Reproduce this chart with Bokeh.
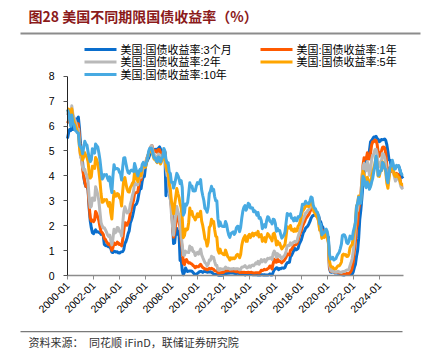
import math
from datetime import datetime, timezone
import pandas as pd
from bokeh.plotting import figure
from bokeh.models import (FixedTicker, DatetimeTickFormatter, Label, Range1d)
from bokeh.embed import file_html
from bokeh.resources import INLINE

# ---------------- data (monthly, starting 2000-01) ----------------
title_text = "图28 美国不同期限国债收益率（%）"
source_text = "资料来源：\u3000同花顺 iFinD，联储证券研究院"
series_names = ["美国:国债收益率:3个月", "美国:国债收益率:1年", "美国:国债收益率:2年",
                "美国:国债收益率:5年", "美国:国债收益率:10年"]
x_tick_labels = ["2000-01", "2002-01", "2004-01", "2006-01", "2008-01", "2010-01", "2012-01",
                 "2014-01", "2016-01", "2018-01", "2020-01", "2022-01", "2024-01"]
y_ticks = [0, 1, 2, 3, 4, 5, 6, 7, 8]

y3m = [
    5.50, 5.73, 5.86, 5.82, 5.99, 5.86, 6.14, 6.28, 6.18, 6.29, 6.36, 5.94,
    5.29, 5.01, 4.54, 3.97, 3.70, 3.57, 3.59, 3.44, 2.69, 2.20, 1.91, 1.72,
    1.68, 1.76, 1.83, 1.75, 1.76, 1.73, 1.71, 1.65, 1.66, 1.61, 1.25, 1.21,
    1.19, 1.19, 1.15, 1.15, 1.09, 0.94, 0.92, 0.97, 0.96, 0.94, 0.95, 0.91,
    0.90, 0.94, 0.95, 0.96, 1.04, 1.29, 1.36, 1.50, 1.68, 1.79, 2.11, 2.22,
    2.37, 2.58, 2.80, 2.84, 2.90, 3.04, 3.29, 3.52, 3.49, 3.79, 3.97, 3.97,
    4.34, 4.54, 4.63, 4.72, 4.84, 4.92, 5.08, 5.09, 4.93, 5.05, 5.07, 4.97,
    5.11, 5.16, 5.08, 5.01, 4.87, 4.74, 4.96, 3.20, 3.99, 4.00, 3.35, 3.07,
    2.82, 2.17, 1.28, 1.31, 1.76, 1.89, 1.66, 1.75, 0.60, 0.69, 0.19, 0.03,
    0.13, 0.30, 0.22, 0.16, 0.18, 0.18, 0.18, 0.17, 0.12, 0.07, 0.05, 0.05,
    0.08, 0.12, 0.15, 0.16, 0.16, 0.12, 0.16, 0.16, 0.15, 0.13, 0.14, 0.14,
    0.15, 0.13, 0.10, 0.06, 0.04, 0.04, 0.04, 0.02, 0.01, 0.02, 0.01, 0.01,
    0.03, 0.09, 0.08, 0.08, 0.09, 0.09, 0.10, 0.10, 0.11, 0.10, 0.09, 0.07,
    0.07, 0.10, 0.09, 0.06, 0.04, 0.05, 0.04, 0.04, 0.02, 0.05, 0.07, 0.07,
    0.04, 0.05, 0.05, 0.03, 0.03, 0.04, 0.03, 0.03, 0.02, 0.02, 0.02, 0.03,
    0.03, 0.02, 0.03, 0.02, 0.02, 0.02, 0.03, 0.07, 0.02, 0.02, 0.13, 0.23,
    0.26, 0.31, 0.30, 0.23, 0.28, 0.27, 0.30, 0.30, 0.29, 0.33, 0.45, 0.51,
    0.52, 0.53, 0.75, 0.81, 0.90, 1.00, 1.09, 1.03, 1.05, 1.09, 1.25, 1.34,
    1.43, 1.59, 1.73, 1.79, 1.90, 1.94, 1.99, 2.07, 2.17, 2.30, 2.37, 2.41,
    2.42, 2.44, 2.45, 2.43, 2.40, 2.22, 2.15, 1.99, 1.93, 1.68, 1.57, 1.57,
    1.55, 1.54, 0.30, 0.14, 0.13, 0.16, 0.13, 0.10, 0.11, 0.10, 0.09, 0.09,
    0.08, 0.04, 0.03, 0.02, 0.02, 0.04, 0.05, 0.05, 0.04, 0.05, 0.05, 0.06,
    0.15, 0.33, 0.44, 0.76, 0.98, 1.49, 2.23, 2.63, 3.13, 3.72, 4.15, 4.36,
    4.69, 4.79, 4.85, 5.02, 5.36, 5.42, 5.49, 5.56, 5.55, 5.59, 5.50, 5.47,
    5.37, 5.40, 5.46, 5.45, 5.46, 5.48, 5.42, 5.25, 4.97, 4.65, 4.62, 4.40,
    4.34, 4.34, 4.34, 4.33, 4.36, 4.38, 4.40, 4.26, 4.07, 3.96, 3.90,
]

y1y = [
    6.12, 6.22, 6.22, 6.15, 6.33, 6.17, 6.08, 6.18, 6.13, 6.01, 6.09, 5.60,
    4.81, 4.68, 4.30, 3.98, 3.78, 3.58, 3.62, 3.47, 2.82, 2.33, 2.18, 2.22,
    2.16, 2.23, 2.57, 2.48, 2.35, 2.20, 1.96, 1.76, 1.72, 1.65, 1.49, 1.45,
    1.36, 1.30, 1.24, 1.27, 1.18, 1.01, 1.12, 1.31, 1.24, 1.25, 1.34, 1.31,
    1.24, 1.24, 1.19, 1.43, 1.78, 2.12, 2.10, 2.02, 2.12, 2.23, 2.50, 2.67,
    2.86, 3.03, 3.30, 3.32, 3.33, 3.36, 3.64, 3.87, 3.85, 4.18, 4.33, 4.35,
    4.45, 4.68, 4.77, 4.90, 5.00, 5.16, 5.22, 5.08, 4.97, 5.01, 5.01, 4.94,
    5.06, 5.05, 4.92, 4.93, 4.91, 4.96, 4.96, 4.47, 4.14, 4.10, 3.50, 3.26,
    2.71, 2.05, 1.54, 1.74, 2.06, 2.42, 2.28, 2.18, 1.91, 1.42, 1.07, 0.49,
    0.44, 0.62, 0.64, 0.55, 0.50, 0.51, 0.48, 0.46, 0.40, 0.37, 0.31, 0.37,
    0.35, 0.35, 0.40, 0.45, 0.37, 0.32, 0.29, 0.26, 0.26, 0.23, 0.25, 0.29,
    0.27, 0.29, 0.26, 0.25, 0.19, 0.18, 0.19, 0.11, 0.10, 0.11, 0.11, 0.12,
    0.12, 0.16, 0.19, 0.18, 0.19, 0.19, 0.19, 0.18, 0.18, 0.18, 0.18, 0.16,
    0.15, 0.16, 0.15, 0.12, 0.12, 0.14, 0.12, 0.13, 0.12, 0.12, 0.12, 0.13,
    0.12, 0.12, 0.13, 0.11, 0.10, 0.10, 0.11, 0.11, 0.11, 0.10, 0.13, 0.21,
    0.20, 0.22, 0.25, 0.23, 0.24, 0.28, 0.30, 0.38, 0.37, 0.26, 0.48, 0.65,
    0.54, 0.53, 0.66, 0.56, 0.59, 0.55, 0.51, 0.57, 0.59, 0.66, 0.74, 0.87,
    0.83, 0.82, 1.01, 1.04, 1.12, 1.20, 1.22, 1.23, 1.28, 1.40, 1.56, 1.70,
    1.80, 1.96, 2.06, 2.15, 2.27, 2.33, 2.39, 2.45, 2.56, 2.65, 2.70, 2.66,
    2.58, 2.55, 2.49, 2.42, 2.34, 2.00, 1.96, 1.77, 1.80, 1.61, 1.57, 1.55,
    1.53, 1.41, 0.33, 0.18, 0.16, 0.18, 0.15, 0.13, 0.13, 0.13, 0.12, 0.10,
    0.10, 0.07, 0.08, 0.06, 0.05, 0.07, 0.08, 0.07, 0.08, 0.11, 0.18, 0.30,
    0.55, 1.00, 1.34, 1.89, 2.06, 2.65, 2.90, 3.20, 3.86, 4.43, 4.73, 4.68,
    4.69, 4.93, 4.68, 4.68, 4.91, 5.24, 5.37, 5.37, 5.44, 5.42, 5.28, 4.96,
    4.79, 4.92, 4.99, 5.14, 5.16, 5.12, 4.91, 4.43, 4.03, 4.20, 4.33, 4.23,
    4.17, 4.18, 4.03, 3.96, 4.10, 4.07, 4.04, 3.91, 3.68, 3.61, 3.62,
]

y2y = [
    6.44, 6.61, 6.53, 6.40, 6.81, 6.48, 6.34, 6.23, 6.08, 5.91, 5.88, 5.35,
    4.76, 4.66, 4.34, 4.23, 4.26, 4.08, 4.04, 3.76, 3.12, 2.73, 2.78, 3.11,
    3.03, 3.02, 3.56, 3.42, 3.26, 2.99, 2.56, 2.13, 2.00, 1.91, 1.92, 1.84,
    1.74, 1.63, 1.57, 1.62, 1.42, 1.23, 1.47, 1.86, 1.71, 1.75, 1.93, 1.91,
    1.76, 1.74, 1.58, 2.07, 2.53, 2.76, 2.64, 2.51, 2.53, 2.58, 2.85, 3.01,
    3.22, 3.38, 3.73, 3.65, 3.64, 3.64, 3.87, 4.04, 3.95, 4.17, 4.33, 4.35,
    4.45, 4.68, 4.77, 4.90, 5.00, 5.16, 5.22, 4.97, 4.80, 4.82, 4.74, 4.67,
    4.88, 4.85, 4.57, 4.67, 4.77, 4.96, 4.82, 4.31, 4.01, 3.97, 3.34, 3.12,
    2.48, 1.97, 1.62, 2.05, 2.45, 2.77, 2.57, 2.42, 2.08, 1.61, 1.21, 0.82,
    0.81, 0.98, 0.93, 0.93, 0.92, 1.18, 1.02, 1.12, 0.96, 0.95, 0.80, 0.87,
    0.93, 0.86, 0.96, 1.06, 0.83, 0.72, 0.62, 0.52, 0.48, 0.38, 0.45, 0.62,
    0.61, 0.77, 0.70, 0.73, 0.56, 0.41, 0.41, 0.23, 0.21, 0.28, 0.25, 0.26,
    0.24, 0.28, 0.34, 0.29, 0.29, 0.29, 0.25, 0.27, 0.26, 0.28, 0.27, 0.26,
    0.27, 0.27, 0.26, 0.23, 0.25, 0.33, 0.34, 0.36, 0.40, 0.34, 0.30, 0.34,
    0.39, 0.33, 0.40, 0.42, 0.39, 0.45, 0.51, 0.47, 0.57, 0.45, 0.53, 0.64,
    0.55, 0.62, 0.64, 0.54, 0.61, 0.69, 0.67, 0.70, 0.71, 0.64, 0.88, 0.98,
    0.90, 0.73, 0.88, 0.77, 0.82, 0.73, 0.67, 0.74, 0.77, 0.84, 0.98, 1.20,
    1.21, 1.20, 1.31, 1.24, 1.30, 1.34, 1.37, 1.34, 1.38, 1.55, 1.70, 1.84,
    2.03, 2.18, 2.28, 2.38, 2.51, 2.53, 2.61, 2.64, 2.77, 2.86, 2.86, 2.68,
    2.54, 2.50, 2.41, 2.34, 2.21, 1.81, 1.84, 1.57, 1.65, 1.55, 1.61, 1.61,
    1.52, 1.33, 0.45, 0.22, 0.17, 0.19, 0.14, 0.14, 0.13, 0.14, 0.17, 0.14,
    0.13, 0.12, 0.15, 0.16, 0.16, 0.20, 0.22, 0.22, 0.24, 0.39, 0.52, 0.68,
    0.98, 1.39, 1.91, 2.54, 2.61, 2.99, 3.00, 3.21, 3.86, 4.38, 4.50, 4.29,
    4.21, 4.57, 4.39, 4.02, 4.22, 4.66, 4.83, 4.88, 5.05, 5.07, 4.89, 4.48,
    4.35, 4.53, 4.59, 4.90, 4.87, 4.74, 4.50, 3.97, 3.62, 3.97, 4.26, 4.24,
    4.27, 4.21, 3.97, 3.79, 3.92, 3.89, 3.86, 3.77, 3.57, 3.50, 3.55,
]

y5y = [
    6.58, 6.68, 6.50, 6.26, 6.69, 6.30, 6.18, 6.06, 5.93, 5.78, 5.70, 5.17,
    4.86, 4.89, 4.64, 4.76, 4.93, 4.81, 4.76, 4.57, 4.12, 3.91, 3.97, 4.39,
    4.34, 4.30, 4.74, 4.65, 4.49, 4.19, 3.81, 3.29, 2.94, 2.95, 3.05, 3.03,
    3.05, 2.90, 2.78, 2.93, 2.52, 2.27, 2.87, 3.37, 3.18, 3.19, 3.29, 3.27,
    3.12, 3.07, 2.79, 3.39, 3.85, 3.93, 3.69, 3.47, 3.36, 3.35, 3.53, 3.60,
    3.71, 3.77, 4.17, 4.00, 3.85, 3.77, 3.98, 4.12, 4.01, 4.33, 4.45, 4.39,
    4.35, 4.57, 4.72, 4.90, 5.00, 5.07, 5.04, 4.82, 4.67, 4.69, 4.58, 4.53,
    4.75, 4.71, 4.48, 4.59, 4.67, 5.03, 4.88, 4.43, 4.20, 4.20, 3.67, 3.49,
    2.98, 2.78, 2.48, 2.84, 3.15, 3.49, 3.30, 3.14, 2.88, 2.73, 2.29, 1.52,
    1.60, 1.87, 1.82, 1.86, 2.13, 2.71, 2.46, 2.57, 2.37, 2.33, 2.23, 2.34,
    2.48, 2.36, 2.43, 2.58, 2.18, 2.00, 1.76, 1.47, 1.41, 1.18, 1.35, 1.93,
    1.99, 2.26, 2.11, 2.17, 1.84, 1.58, 1.54, 1.02, 0.90, 1.06, 0.91, 0.89,
    0.84, 0.83, 1.02, 0.89, 0.76, 0.71, 0.62, 0.71, 0.67, 0.71, 0.67, 0.70,
    0.81, 0.85, 0.82, 0.71, 0.84, 1.20, 1.40, 1.52, 1.60, 1.37, 1.37, 1.58,
    1.65, 1.52, 1.64, 1.70, 1.59, 1.68, 1.70, 1.63, 1.77, 1.55, 1.62, 1.64,
    1.37, 1.47, 1.52, 1.35, 1.54, 1.68, 1.63, 1.54, 1.49, 1.39, 1.67, 1.70,
    1.52, 1.22, 1.38, 1.26, 1.30, 1.17, 1.07, 1.13, 1.18, 1.27, 1.60, 1.96,
    1.92, 1.90, 2.01, 1.82, 1.84, 1.77, 1.87, 1.78, 1.80, 1.98, 2.05, 2.18,
    2.38, 2.60, 2.63, 2.70, 2.82, 2.78, 2.78, 2.77, 2.89, 3.00, 2.95, 2.68,
    2.54, 2.49, 2.37, 2.33, 2.19, 1.83, 1.83, 1.49, 1.57, 1.53, 1.64, 1.68,
    1.56, 1.32, 0.59, 0.39, 0.34, 0.34, 0.28, 0.27, 0.27, 0.34, 0.39, 0.39,
    0.45, 0.54, 0.82, 0.86, 0.82, 0.84, 0.76, 0.77, 0.86, 1.11, 1.20, 1.23,
    1.54, 1.81, 2.11, 2.78, 2.87, 3.19, 2.96, 3.03, 3.70, 4.18, 4.06, 3.76,
    3.64, 3.94, 3.82, 3.54, 3.59, 3.95, 4.14, 4.31, 4.49, 4.77, 4.49, 3.99,
    3.98, 4.19, 4.20, 4.56, 4.50, 4.32, 4.16, 3.71, 3.50, 3.91, 4.23, 4.25,
    4.43, 4.26, 4.03, 3.97, 4.06, 3.97, 3.94, 3.84, 3.68, 3.65, 3.65,
]

y10y = [
    6.66, 6.52, 6.26, 5.99, 6.44, 6.10, 6.05, 5.83, 5.80, 5.74, 5.72, 5.24,
    5.16, 5.10, 4.89, 5.14, 5.39, 5.28, 5.24, 4.97, 4.73, 4.57, 4.65, 5.09,
    5.04, 4.91, 5.28, 5.21, 5.16, 4.93, 4.65, 4.26, 3.87, 3.94, 4.05, 4.03,
    4.05, 3.90, 3.81, 3.96, 3.57, 3.33, 3.98, 4.45, 4.27, 4.29, 4.30, 4.27,
    4.15, 4.08, 3.83, 4.35, 4.72, 4.73, 4.50, 4.28, 4.13, 4.10, 4.19, 4.23,
    4.22, 4.17, 4.50, 4.34, 4.14, 4.00, 4.18, 4.26, 4.20, 4.46, 4.54, 4.47,
    4.42, 4.57, 4.72, 4.99, 5.11, 5.11, 5.09, 4.88, 4.72, 4.73, 4.60, 4.56,
    4.76, 4.72, 4.56, 4.69, 4.75, 5.10, 5.00, 4.67, 4.52, 4.53, 4.15, 4.10,
    3.74, 3.74, 3.51, 3.68, 3.88, 4.10, 4.01, 3.89, 3.69, 3.81, 3.53, 2.42,
    2.52, 2.87, 2.82, 2.93, 3.29, 3.72, 3.56, 3.59, 3.40, 3.39, 3.40, 3.59,
    3.73, 3.69, 3.73, 3.85, 3.42, 3.20, 3.01, 2.70, 2.65, 2.54, 2.76, 3.29,
    3.39, 3.58, 3.41, 3.46, 3.17, 3.00, 3.00, 2.30, 1.98, 2.15, 2.01, 1.98,
    1.97, 1.97, 2.17, 2.05, 1.80, 1.62, 1.53, 1.68, 1.72, 1.75, 1.65, 1.72,
    1.91, 1.98, 1.96, 1.76, 1.93, 2.30, 2.58, 2.74, 2.81, 2.62, 2.72, 2.90,
    2.86, 2.71, 2.72, 2.71, 2.56, 2.60, 2.54, 2.42, 2.53, 2.30, 2.33, 2.21,
    1.88, 1.98, 2.04, 1.94, 2.20, 2.36, 2.32, 2.17, 2.17, 2.07, 2.26, 2.24,
    2.09, 1.78, 1.89, 1.81, 1.81, 1.64, 1.50, 1.56, 1.63, 1.76, 2.14, 2.49,
    2.43, 2.42, 2.48, 2.30, 2.30, 2.19, 2.32, 2.21, 2.20, 2.36, 2.35, 2.40,
    2.58, 2.86, 2.84, 2.87, 2.98, 2.91, 2.89, 2.89, 3.00, 3.15, 3.12, 2.83,
    2.71, 2.68, 2.57, 2.53, 2.40, 2.07, 2.06, 1.63, 1.70, 1.71, 1.81, 1.86,
    1.76, 1.50, 0.87, 0.66, 0.67, 0.73, 0.62, 0.65, 0.68, 0.79, 0.87, 0.93,
    1.08, 1.26, 1.61, 1.64, 1.62, 1.52, 1.32, 1.28, 1.37, 1.58, 1.56, 1.47,
    1.76, 1.93, 2.13, 2.75, 2.90, 3.14, 2.90, 2.90, 3.52, 3.98, 3.89, 3.62,
    3.53, 3.75, 3.66, 3.46, 3.57, 3.75, 3.90, 4.17, 4.38, 4.80, 4.50, 4.02,
    4.06, 4.21, 4.21, 4.54, 4.48, 4.31, 4.25, 3.87, 3.72, 4.10, 4.36, 4.39,
    4.63, 4.45, 4.28, 4.28, 4.42, 4.38, 4.39, 4.26, 4.12, 4.06, 4.08,
]

series = [y3m, y1y, y2y, y5y, y10y]
dates = pd.date_range("2000-01-01", periods=len(y3m), freq="MS")

# ---------------- layout geometry (pixels) ----------------
W, H = 436, 349
colors = ["#0A6ECD", "#FF5A00", "#B9B9B9", "#FFA500", "#47AAE2"]
FONT_CJK = "Noto Sans CJK SC"
FONT_NUM = "Liberation Sans"
FONT_LEG = "Liberation Sans, Noto Sans CJK SC"


def ms(d):
    return d.replace(tzinfo=timezone.utc).timestamp() * 1000


X_START, X_END = datetime(2000, 1, 1), datetime(2025, 11, 13)
PX_LEFT, PX_RIGHT = 67.0, 403.0        # where X_START / X_END sit
PX_ZERO, PX_PER_UNIT = 275.0, 24.91    # y = 0 position and scale
ms_per_px = (ms(X_END) - ms(X_START)) / (PX_RIGHT - PX_LEFT)
xr = Range1d(ms(X_START) - PX_LEFT * ms_per_px, ms(X_END) + (W - PX_RIGHT) * ms_per_px)
yr = Range1d(-(H - PX_ZERO) / PX_PER_UNIT, PX_ZERO / PX_PER_UNIT)


def px_x(px):
    return xr.start + px * ms_per_px


def px_y(py):
    return (PX_ZERO - py) / PX_PER_UNIT


p = figure(width=W, height=H, x_axis_type="datetime", title=None, x_range=xr, y_range=yr,
           output_backend="svg", toolbar_location=None,
           min_border_left=0, min_border_right=0, min_border_top=0, min_border_bottom=0)
p.outline_line_color = None
p.xgrid.visible = False
p.ygrid.visible = False
p.background_fill_color = "white"
p.border_fill_color = "white"

# page rules (decoration) as thin filled bars: under the title and above the source
p.quad(left=[px_x(20)], right=[px_x(420)], top=[px_y(32)], bottom=[px_y(34)],
       fill_color="#8C8C8C", line_color=None)
p.quad(left=[px_x(20)], right=[px_x(402)], top=[px_y(330.5)], bottom=[px_y(331.7)],
       fill_color="#7A7A7A", line_color=None)

renderers = []
for vals, col in zip(series, colors):
    r = p.line(dates, vals, line_color=col, line_width=3, line_join="round")
    renderers.append(r)

# axes placed at fixed locations inside the full-canvas frame
tick_ms = [ms(datetime.strptime(t, "%Y-%m")) for t in x_tick_labels]
p.xaxis.fixed_location = 0
p.xaxis.bounds = (ms(X_START), ms(X_END))
p.xaxis.ticker = FixedTicker(ticks=tick_ms)
fmt = "%Y-%m"
p.xaxis.formatter = DatetimeTickFormatter(
    microseconds=fmt, milliseconds=fmt, seconds=fmt, minsec=fmt, minutes=fmt,
    hourmin=fmt, hours=fmt, days=fmt, months=fmt, years=fmt)
p.xaxis.major_label_orientation = math.pi / 4
p.xaxis.axis_line_color = "#8C8C8C"
p.xaxis.axis_line_width = 1.5
p.xaxis.major_tick_line_color = "#8C8C8C"
p.xaxis.major_tick_out = 4
p.xaxis.major_tick_in = 0
p.xaxis.minor_tick_out = 0
p.xaxis.minor_tick_in = 0
p.xaxis.major_label_standoff = 4

p.yaxis.fixed_location = ms(X_START)
p.yaxis.bounds = (0, 8)
p.yaxis.ticker = FixedTicker(ticks=y_ticks)
p.yaxis.axis_line_color = "#222222"
p.yaxis.major_tick_line_color = "#555555"
p.yaxis.major_tick_out = 4
p.yaxis.major_tick_in = 0
p.yaxis.minor_tick_out = 0
p.yaxis.minor_tick_in = 0
p.yaxis.major_label_standoff = 9

for ax in (p.xaxis, p.yaxis):
    ax.major_label_text_font = FONT_NUM
    ax.major_label_text_font_size = "10.5px"
    ax.major_label_text_color = "#000000"

# ---------------- legend (two columns, drawn by hand) ----------------
legend_slots = [(84, 49), (260, 49), (84, 61.5), (260, 61.5), (84, 74)]  # 3M,1Y,2Y,5Y,10Y
sw_x0 = [px_x(x) for x, _ in legend_slots]
sw_x1 = [px_x(x + 32) for x, _ in legend_slots]
sw_y = [px_y(y) for _, y in legend_slots]
p.segment(x0=sw_x0, y0=sw_y, x1=sw_x1, y1=sw_y, line_color=colors, line_width=3)
for (x, y), name in zip(legend_slots, series_names):
    p.add_layout(Label(x=x + 36, y=H - y, x_units="screen", y_units="screen", text=name,
                       text_font=FONT_LEG, text_font_size="11px", text_color="#000000",
                       text_baseline="middle"))

# ---------------- title and source ----------------
p.add_layout(Label(x=28, y=H - 15, x_units="screen", y_units="screen", text=title_text,
                   text_font=FONT_CJK, text_font_size="14px", text_font_style="bold",
                   text_color="#8B1A1A", text_baseline="middle"))
p.add_layout(Label(x=28, y=H - 341, x_units="screen", y_units="screen", text=source_text,
                   text_font=FONT_CJK, text_font_size="11px", text_color="#333333",
                   text_baseline="middle"))

open("out.html", "w").write(file_html(p, INLINE))
